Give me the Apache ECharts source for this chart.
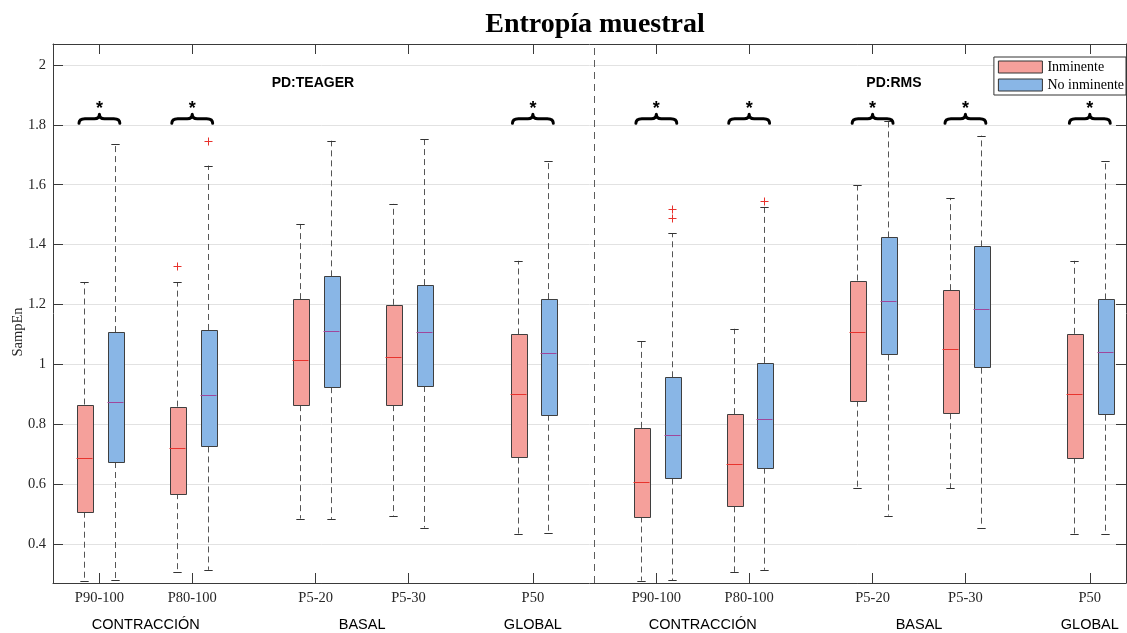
<!DOCTYPE html>
<html>
<head>
<meta charset="utf-8">
<script src="https://cdn.jsdelivr.net/npm/echarts@6/dist/echarts.min.js"></script>
<style>html,body{margin:0;padding:0;background:#fff}#c{width:1127px;height:633px}</style>
</head>
<body>
<div id="c"></div>
<script>
// ---------------- data ----------------
const categories = ['P90-100','P80-100','P5-20','P5-30','P50','P90-100','P80-100','P5-20','P5-30','P50'];
const groupLabels = ['CONTRACCIÓN','BASAL','GLOBAL','CONTRACCIÓN','BASAL','GLOBAL'];
const panelLabels = ['PD:TEAGER','PD:RMS'];
const seriesNames = ['Inminente','No inminente'];
const yTicks = [0.4,0.6,0.8,1,1.2,1.4,1.6,1.8,2];
// each row: [lower whisker, Q1, median, Q3, upper whisker]
const inminente = [
  [0.278,0.508,0.687,0.866,1.275],
  [0.307,0.570,0.722,0.859,1.275],
  [0.485,0.864,1.015,1.218,1.469],
  [0.495,0.864,1.025,1.199,1.536],
  [0.434,0.689,0.902,1.100,1.346],
  [0.278,0.492,0.608,0.788,1.077],
  [0.307,0.526,0.668,0.834,1.119],
  [0.587,0.879,1.109,1.280,1.599],
  [0.587,0.837,1.050,1.248,1.556],
  [0.435,0.689,0.902,1.102,1.346]
];
const noInminente = [
  [0.279,0.674,0.874,1.108,1.735],
  [0.314,0.726,0.899,1.115,1.664],
  [0.484,0.924,1.112,1.294,1.747],
  [0.455,0.928,1.107,1.265,1.754],
  [0.436,0.832,1.039,1.218,1.680],
  [0.279,0.619,0.764,0.957,1.438],
  [0.314,0.655,0.819,1.005,1.527],
  [0.495,1.033,1.213,1.424,1.813],
  [0.455,0.989,1.186,1.394,1.764],
  [0.435,0.832,1.040,1.217,1.679]
];
// outliers: [category index, value]
const outliersInminente = [[1,1.330]];
const outliersNoInminente = [[1,1.745],[5,1.518],[5,1.488],[6,1.547]];
// significance marks (brace + *) per category
const significant = [true,true,false,false,true,true,true,true,true,true];

// ---------------- layout ----------------
const catPos = [1,2,3.33,4.33,5.67,7,8,9.33,10.33,11.67];
const groupPos = [1.5,3.83,5.67,7.5,9.83,11.67];
const panelPos = [[3.30,1.938],[9.56,1.938]];
const dividerPos = 6.33;
const X_MIN = 0.5, X_MAX = 12.06, Y_MIN = 0.27, Y_MAX = 2.07;
const OFFSET = 0.165, BOX_W = 0.172, CAP_W = 0.09, BRACE_W = 0.44, BRACE_Y = 1.805;
const SERIF = '"Liberation Serif","Times New Roman",serif';
const SANS = '"Liberation Sans",Arial,sans-serif';
const RED = '#f5a09b', BLUE = '#89b6e6';

function labelFor(v, posArr, labels){
  for (let i = 0; i < posArr.length; i++) if (Math.abs(posArr[i]-v) < 1e-6) return labels[i];
  return '';
}

function boxRenderer(offset, fill, medColor){
  return function(params, api){
    const x = api.value(0) + offset;
    const pLow = api.coord([x, api.value(1)]);
    const pQ1 = api.coord([x, api.value(2)]);
    const pMed = api.coord([x, api.value(3)]);
    const pQ3 = api.coord([x, api.value(4)]);
    const pHigh = api.coord([x, api.value(5)]);
    const hw = api.size([BOX_W, 0])[0] / 2;
    const cw = api.size([CAP_W, 0])[0] / 2;
    const cx = Math.round(pQ1[0]) + 0.5;
    const dash = {stroke:'#555', lineWidth:1, lineDash:[6,4], fill:null};
    const cap = {stroke:'#333', lineWidth:1, fill:null};
    return {type:'group', children:[
      {type:'line', shape:{x1:cx,y1:pQ3[1],x2:cx,y2:pHigh[1]}, style:dash},
      {type:'line', shape:{x1:cx,y1:pQ1[1],x2:cx,y2:pLow[1]}, style:dash},
      {type:'line', shape:{x1:cx-cw,y1:Math.round(pHigh[1])+0.5,x2:cx+cw,y2:Math.round(pHigh[1])+0.5}, style:cap},
      {type:'line', shape:{x1:cx-cw,y1:Math.round(pLow[1])+0.5,x2:cx+cw,y2:Math.round(pLow[1])+0.5}, style:cap},
      {type:'rect', shape:{x:Math.round(cx-hw)+0.5,y:Math.round(pQ3[1])+0.5,width:Math.round(2*hw),height:Math.round(pQ1[1]-pQ3[1])}, style:{fill:fill, stroke:'#3f3f3f', lineWidth:1}},
      {type:'line', shape:{x1:cx-hw,y1:Math.round(pMed[1])+0.5,x2:cx+hw,y2:Math.round(pMed[1])+0.5}, style:{stroke:medColor, lineWidth:1}}
    ]};
  };
}

function outlierRenderer(offset){
  return function(params, api){
    const p = api.coord([api.value(0) + offset, api.value(1)]);
    const cx = Math.round(p[0]) + 0.5, cy = Math.round(p[1]) + 0.5;
    const s = {stroke:'#e8322c', lineWidth:1, fill:null};
    return {type:'group', children:[
      {type:'line', shape:{x1:cx-4,y1:cy,x2:cx+4,y2:cy}, style:s},
      {type:'line', shape:{x1:cx,y1:cy-4,x2:cx,y2:cy+4}, style:s}
    ]};
  };
}

function braceRenderer(params, api){
  const c = api.coord([api.value(0), BRACE_Y]);
  const w = api.size([BRACE_W, 0])[0];
  const x0 = c[0] - w/2, x1 = c[0] + w/2, cx = c[0];
  const yb = c[1], ym = yb - 4.5, yt = yb - 9;
  const d = 'M' + x0 + ',' + yb + ' Q' + x0 + ',' + ym + ' ' + (x0+6) + ',' + ym +
            ' L' + (cx-5) + ',' + ym + ' Q' + cx + ',' + ym + ' ' + cx + ',' + yt +
            ' Q' + cx + ',' + ym + ' ' + (cx+5) + ',' + ym +
            ' L' + (x1-6) + ',' + ym + ' Q' + x1 + ',' + ym + ' ' + x1 + ',' + yb;
  return {type:'group', children:[
    {type:'path', shape:{pathData:d}, style:{stroke:'#000', lineWidth:3, fill:null, lineCap:'round', lineJoin:'round'}},
    {type:'text', x:cx, y:yt - 5, style:{text:'*', font:'bold 18px ' + SANS, fill:'#000', align:'center', verticalAlign:'middle'}}
  ]};
}

function panelRenderer(params, api){
  const p = api.coord([api.value(0), api.value(1)]);
  return {type:'text', x:p[0], y:p[1], style:{text:panelLabels[params.dataIndex], font:'bold 14px ' + SANS, fill:'#000', align:'center', verticalAlign:'middle'}};
}

const inmData = inminente.map((r,i) => [catPos[i]].concat(r));
const noData = noInminente.map((r,i) => [catPos[i]].concat(r));
const outInm = outliersInminente.map(o => [catPos[o[0]], o[1]]);
const outNo = outliersNoInminente.map(o => [catPos[o[0]], o[1]]);
const braceData = catPos.filter((p,i) => significant[i]).map(p => [p]);

const chart = echarts.init(document.getElementById('c'), null, {renderer:'canvas'});
const axisLineStyle = {color:'#3a3a3a', width:1};
chart.setOption({
  animation:false,
  backgroundColor:'#fff',
  graphic:[
    {type:'text', x:595, y:25, style:{text:'Entropía muestral', font:'bold 28px ' + SERIF, fill:'#000', align:'center', verticalAlign:'middle'}},
    {type:'text', x:18, y:332, rotation:Math.PI/2, style:{text:'SampEn', font:'14.5px ' + SERIF, fill:'#262626', align:'center', verticalAlign:'middle'}}
  ],
  legend:{
    orient:'vertical', right:1, top:57, padding:[3,2,3,4], itemGap:4,
    itemWidth:44, itemHeight:12, icon:'rect',
    backgroundColor:'#fff', borderColor:'#333', borderWidth:1,
    textStyle:{fontFamily:SERIF, fontSize:14, color:'#000'},
    data:[
      {name:seriesNames[0], itemStyle:{color:RED, borderColor:'#333', borderWidth:1}},
      {name:seriesNames[1], itemStyle:{color:BLUE, borderColor:'#333', borderWidth:1}}
    ]
  },
  grid:{left:53, right:1, top:44, bottom:50, containLabel:false},
  xAxis:[
    {type:'value', position:'bottom', min:X_MIN, max:X_MAX,
     axisLine:{show:true, lineStyle:axisLineStyle},
     axisTick:{show:true, inside:true, length:10, customValues:catPos, lineStyle:axisLineStyle},
     axisLabel:{show:true, customValues:catPos, margin:8, formatter:v => labelFor(v, catPos, categories),
                fontFamily:SERIF, fontSize:14.5, color:'#262626'},
     splitLine:{show:false}},
    {type:'value', position:'top', min:X_MIN, max:X_MAX,
     axisLine:{show:true, lineStyle:axisLineStyle},
     axisTick:{show:true, inside:true, length:10, customValues:catPos, lineStyle:axisLineStyle},
     axisLabel:{show:false}, splitLine:{show:false}},
    {type:'value', position:'bottom', min:X_MIN, max:X_MAX,
     axisLine:{show:false}, axisTick:{show:false},
     axisLabel:{show:true, customValues:groupPos, margin:34, formatter:v => labelFor(v, groupPos, groupLabels),
                fontFamily:SANS, fontSize:14.5, color:'#000'},
     splitLine:{show:false}}
  ],
  yAxis:[
    {type:'value', position:'left', min:Y_MIN, max:Y_MAX,
     axisLine:{show:true, lineStyle:axisLineStyle},
     axisTick:{show:true, inside:true, length:10, customValues:yTicks, lineStyle:axisLineStyle},
     axisLabel:{show:true, customValues:yTicks, margin:7, fontFamily:SERIF, fontSize:14.5, color:'#262626',
                formatter:v => String(Math.round(v*10)/10)},
     splitLine:{show:true, lineStyle:{color:'#e2e2e2', width:1}}},
    {type:'value', position:'right', min:Y_MIN, max:Y_MAX,
     axisLine:{show:true, lineStyle:axisLineStyle},
     axisTick:{show:true, inside:true, length:10, customValues:yTicks, lineStyle:axisLineStyle},
     axisLabel:{show:false}, splitLine:{show:false}}
  ],
  series:[
    {name:seriesNames[0], type:'custom', xAxisIndex:0, yAxisIndex:0, itemStyle:{color:RED},
     renderItem:boxRenderer(-OFFSET, RED, '#e8342e'), data:inmData, z:3,
     markLine:{silent:true, symbol:['none','none'], label:{show:false},
               lineStyle:{type:[7,5], color:'#5c5c5c', width:1}, data:[{xAxis:dividerPos}]}},
    {name:seriesNames[1], type:'custom', xAxisIndex:0, yAxisIndex:0, itemStyle:{color:BLUE},
     renderItem:boxRenderer(OFFSET, BLUE, '#a0479b'), data:noData, z:3},
    {name:'outInm', type:'custom', renderItem:outlierRenderer(-OFFSET), data:outInm, z:4},
    {name:'outNo', type:'custom', renderItem:outlierRenderer(OFFSET), data:outNo, z:4},
    {name:'braces', type:'custom', renderItem:braceRenderer, data:braceData, z:4},
    {name:'panels', type:'custom', renderItem:panelRenderer, data:panelPos, z:4}
  ]
});
</script>
</body>
</html>
